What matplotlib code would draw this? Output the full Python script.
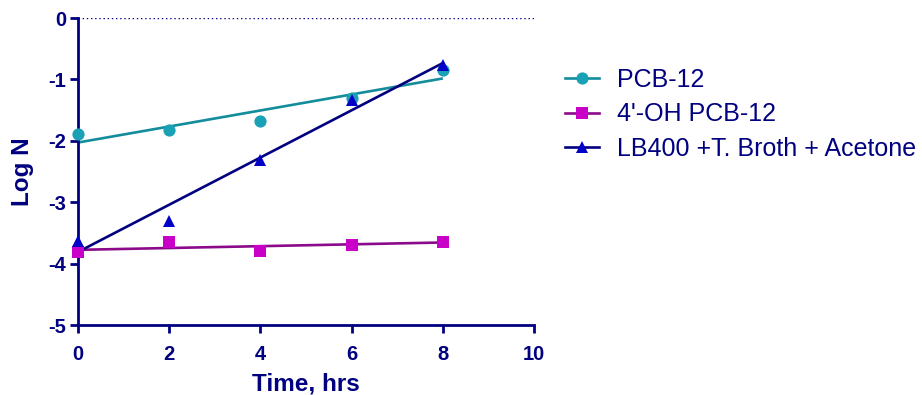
import numpy as np
import matplotlib
matplotlib.use("Agg")
import matplotlib.pyplot as plt
from matplotlib.lines import Line2D

plt.rcParams['font.family'] = ['Liberation Sans', 'DejaVu Sans']

time_hrs = [0, 2, 4, 6, 8]
pcb12 = [-1.89, -1.82, -1.67, -1.31, -0.84]
oh_pcb12 = [-3.81, -3.65, -3.79, -3.69, -3.64]
lb400 = [-3.63, -3.31, -2.31, -1.34, -0.77]
labels = ["PCB-12", "4'-OH PCB-12", "LB400 +T. Broth + Acetone"]
xticks = [0, 2, 4, 6, 8, 10]
yticks = [0, -1, -2, -3, -4, -5]

navy = '#000080'
series = [
    (pcb12, 'o', '#1BA1B5', '#138C9C', 8.8),
    (oh_pcb12, 's', '#C800C8', '#8B0A8B', 8.6),
    (lb400, '^', '#0000C8', '#000080', 8.8),
]

fig = plt.figure(figsize=(9.22, 3.95), dpi=100)
ax = fig.add_axes([0.0846, 0.1772, 0.4946, 0.7772])

x = np.array(time_hrs, dtype=float)
handles = []
for (vals, mk, mcol, lcol, ms), lab in zip(series, labels):
    y = np.array(vals)
    slope, icpt = np.polyfit(x, y, 1)
    xf = np.array([x.min(), x.max()])
    ax.plot(xf, icpt + slope * xf, color=lcol, lw=1.9, zorder=2, solid_capstyle='butt')
    ax.plot(x, y, linestyle='none', marker=mk, color=mcol, markersize=ms,
            markeredgewidth=0, zorder=3, clip_on=False)
    handles.append(Line2D([0], [0], color=lcol, lw=1.9, marker=mk,
                          markerfacecolor=mcol, markeredgewidth=0, markersize=ms))

ax.axhline(0, color=navy, lw=1.0, linestyle=(0, (1, 2)), zorder=1)

ax.set_xlim(0, 10)
ax.set_ylim(-5, 0)
ax.set_xticks(xticks)
ax.set_yticks(yticks)
ax.set_xticklabels([str(t) for t in xticks])
ax.set_yticklabels([str(t) for t in yticks])

for s in ['top', 'right']:
    ax.spines[s].set_visible(False)
for s in ['left', 'bottom']:
    ax.spines[s].set_color(navy)
    ax.spines[s].set_linewidth(2.0)
ax.tick_params(axis='both', colors=navy, width=2.0, length=5.5, direction='out',
               labelsize=14.5)
ax.tick_params(axis='x', pad=9)
ax.tick_params(axis='y', pad=3)
for lbl in ax.get_xticklabels() + ax.get_yticklabels():
    lbl.set_fontweight('bold')

ax.set_xlabel('Time, hrs', fontsize=17.5, fontweight='bold', color=navy, labelpad=6)
ax.set_ylabel('Log N', fontsize=17.5, fontweight='bold', color=navy, labelpad=10)

leg = fig.legend(handles, labels, loc='upper left', bbox_to_anchor=(0.613, 0.829),
                 frameon=False, fontsize=18, handlelength=1.36, handletextpad=0.72,
                 labelspacing=0.43, borderaxespad=0, borderpad=0)
for t in leg.get_texts():
    t.set_color(navy)

fig.savefig('out.png', dpi=100)
